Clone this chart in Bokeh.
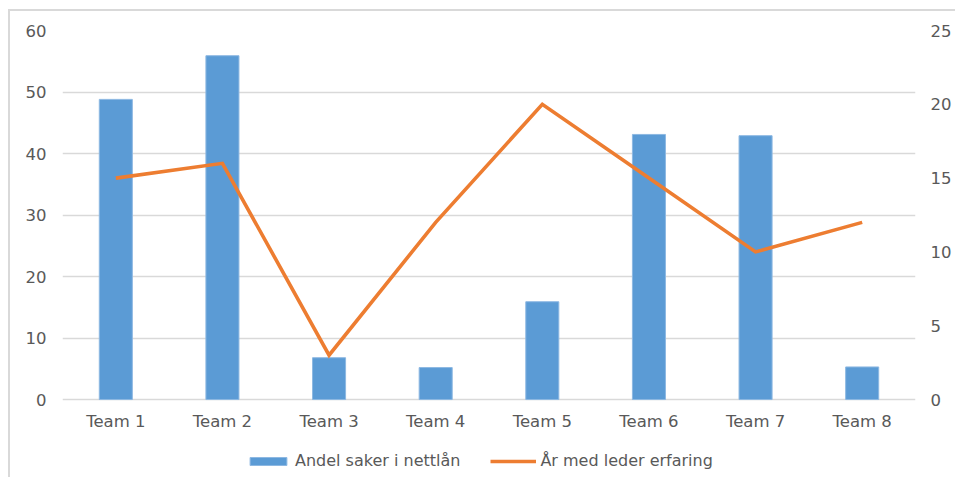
from bokeh.plotting import figure
from bokeh.models import (ColumnDataSource, FactorRange, Range1d, LinearAxis,
                          Legend, LegendItem, FixedTicker)
from bokeh.embed import file_html
from bokeh.resources import INLINE

# Data
teams = ["Team 1", "Team 2", "Team 3", "Team 4", "Team 5", "Team 6", "Team 7", "Team 8"]
andel_nettlan = [48.8, 55.9, 6.8, 5.2, 15.9, 43.1, 42.9, 5.3]
aar_erfaring = [15, 16, 3, 12, 20, 15, 10, 12]
left_ticks = [0, 10, 20, 30, 40, 50, 60]
right_ticks = [0, 5, 10, 15, 20, 25]

BLUE = "#5B9BD5"
ORANGE = "#ED7D31"
GRID = "#D9D9D9"
TEXT = "#595959"
FONT = "DejaVu Sans"

src = ColumnDataSource(dict(team=teams, andel=andel_nettlan, aar=aar_erfaring))

# The plot frame runs down to the bottom edge so the legend can sit inside it;
# the category axis is pinned to y = 0 and the ranges start below zero to
# leave room for the labels and the legend.
p = figure(x_range=FactorRange(*teams), y_range=Range1d(-13.0, 60),
           width=947, height=468, output_backend="svg", toolbar_location=None,
           min_border_left=52, min_border_right=42, min_border_top=19,
           min_border_bottom=0)
p.margin = (9, 0, 0, 8)
p.styles = {"border-top": "2px solid #D9D9D9", "border-left": "2px solid #D9D9D9"}
p.outline_line_color = None
p.extra_y_ranges = {"right": Range1d(-5.42, 25)}

bars = p.vbar(x="team", top="andel", width=0.31, source=src,
              fill_color=BLUE, line_color="#8DB8E2", line_width=1)
line = p.line(x="team", y="aar", source=src, y_range_name="right",
              line_color=ORANGE, line_width=3.6, line_join="miter")

# Axes
p.yaxis.ticker = FixedTicker(ticks=left_ticks)
right_axis = LinearAxis(y_range_name="right", ticker=FixedTicker(ticks=right_ticks))
p.add_layout(right_axis, "right")
p.xaxis.fixed_location = 0

for ax in [p.yaxis[0], right_axis, p.xaxis[0]]:
    ax.axis_line_color = None
    ax.major_tick_line_color = None
    ax.minor_tick_line_color = None
    ax.major_label_text_font = FONT
    ax.major_label_text_font_size = "16.5px"
    ax.major_label_text_color = TEXT
p.yaxis[0].major_label_standoff = 10
right_axis.major_label_standoff = 9
p.xaxis[0].major_label_standoff = 6

p.xgrid.grid_line_color = None
p.ygrid.grid_line_color = GRID
p.ygrid.grid_line_width = 1.3

legend = Legend(items=[LegendItem(label="Andel saker i nettlån", renderers=[bars]),
                       LegendItem(label="År med leder erfaring", renderers=[line])],
                orientation="horizontal", location=(183, 9),
                border_line_color=None, background_fill_alpha=0,
                glyph_width=46, glyph_height=10, label_standoff=4, spacing=30,
                padding=0, margin=0, label_text_font=FONT,
                label_text_font_size="16px", label_text_color=TEXT)
p.add_layout(legend, "center")

open("out.html", "w").write(file_html(p, INLINE))
